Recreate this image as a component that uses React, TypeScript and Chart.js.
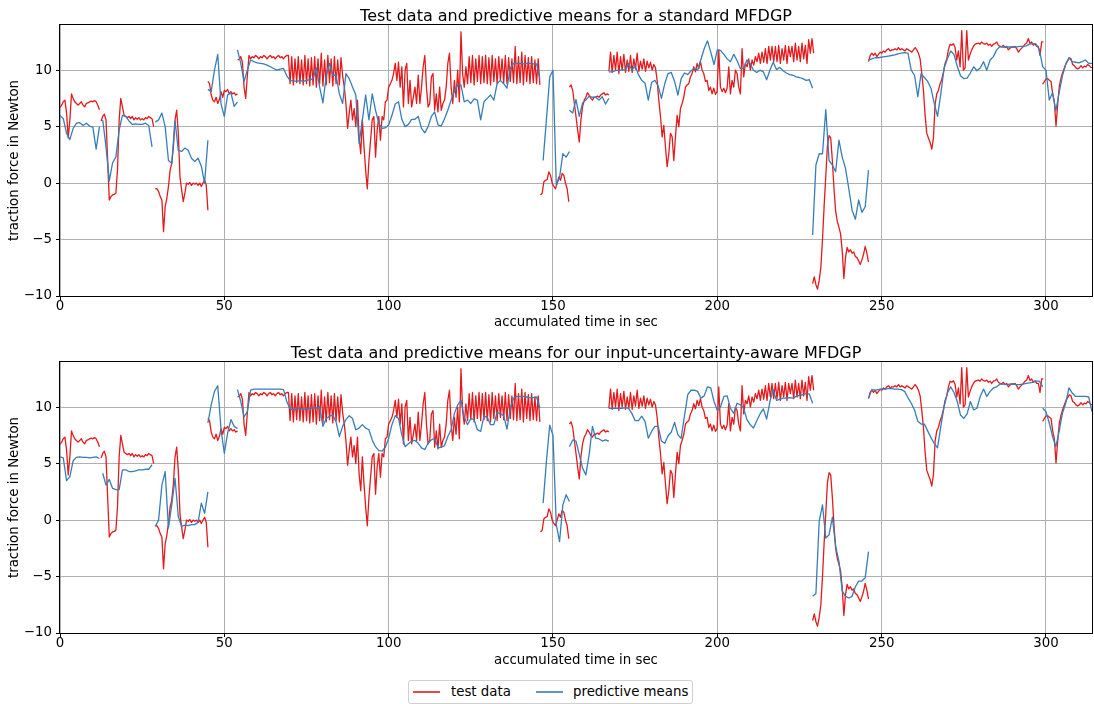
import React, { useEffect, useRef } from "react";
import { Chart, registerables } from "chart.js";

Chart.register(...registerables);

const FONT = '"DejaVu Sans", Verdana, sans-serif';
const RED = "#e41a1c";
const BLUE = "#377eb8";

// ---- x / y axis ticks ----
const xTickStep = 50;
const xMin = 0;
const xMax = 314;
const yTickStep = 5;
const yMin = -10;
const yMax = 14;

// ---- test data (traction force in Newton), recorded segments ----
const testStarts = [0, 12.5, 29, 45, 54, 146.2, 155, 167, 229, 246, 299];
const testSteps = [0.5, 0.5, 0.5, 0.5, 0.5, 0.5066, 0.5, 0.5066, 0.5, 0.5066, 0.5066];

const test1 = [6.7, 6.9, 7.2, 7.35, 6.2, 4.0, 5.6, 7.9, 7.5, 7.2, 7.05, 6.9, 7.05, 7.2, 6.9, 6.75, 7.05, 7.1, 7.2, 7.25, 7.2, 7.3, 7.2, 6.9, 6.5];
const test2 = [5.5, 5.9, 6.1, 5.6, 2.0, -1.5, -1.2, -1.05, -1.0, -0.9, 1.2, 5.6, 7.5, 6.75, 6.0, 5.9, 5.8, 5.9, 5.7, 5.9, 5.6, 5.8, 5.65, 5.8, 5.6, 5.7, 5.6, 5.8, 5.7, 5.9, 5.8, 5.7, 5.0];
const test3 = [-0.5, -0.5, -0.75, -1.2, -1.5, -4.3, -2.1, -1.35, -0.3, 1.15, 1.75, 3.2, 5.6, 6.45, 4.4, 0.55, -0.6, -1.65, -0.9, 0, -0.1, 0.05, -0.2, 0, -0.1, 0, -0.2, 0, -0.3, 0, 0.25, -0.2, -2.4];
const test4 = [9.0, 8.8, 7.8, 7.35, 7.2, 7.6, 7.05, 7.4, 8.1, 7.6, 8.2, 8.1, 8.3, 7.9, 8.1, 7.9, 8.0, 7.8, 7.9];
const test5 = [
  10.9, 10.95, 11.2, 10.7, 8.5, 7.5, 9.5, 11.3, 11.0, 11.2, 11.1, 11.3, 11.2, 11.0, 11.2, 11.1, 11.3, 11.2, 11.0, 11.2, 11.3, 11.1, 11.2, 11.0, 11.2, 11.3, 11.1, 11.2, 11.0, 11.2, 11.3,
  11.3, 8.8, 11.2, 8.7, 11.0, 8.9, 11.2, 8.8, 10.9, 8.7, 11.3, 8.8, 11.0, 8.6, 11.1, 8.7, 11.2, 8.5, 11.0, 8.8, 11.5, 8.6, 10.9, 8.7, 11.3, 8.9, 11.0, 8.6, 11.2, 8.8, 10.9, 8.7, 11.1,
  9.5, 8.5, 7.05, 4.85, 6.2, 7.35, 5.6, 6.6, 5.0, 7.35, 4.1, 2.6, 5.6, 3.2, 1.15, -0.5, 2.0, 3.8, 5.6, 5.9,
  2.3, 4.7, 5.9, 3.8, 5.9, 5.6, 7.2, 7.35, 8.5, 8.8, 9.1, 9.7, 10.6, 9.1, 10.7, 8.5, 10.3, 6.75, 10.0, 10.6,
  7.05, 9.1, 6.75, 7.6, 8.5, 7.05, 9.55, 7.05, 8.5, 10.3, 11.3, 8.5, 6.75, 7.05, 9.4, 9.7, 6.45, 7.9, 6.3, 8.5,
  6.45, 7.05, 7.35, 8.5, 10.6, 11.5, 8.5, 7.05, 9.1, 7.6, 10.0, 7.2, 13.4, 9.7, 8.5, 10.3,
  8.8, 11.2, 8.9, 11.3, 8.7, 11.0, 9.0, 11.3, 8.8, 11.2, 8.9, 11.3, 8.8, 11.1, 8.7, 11.3, 9.0, 11.0, 8.8, 11.2,
  9.1, 11.0, 8.9, 11.3, 8.8, 11.1, 9.0, 11.0, 8.9, 12.1, 8.8, 11.2, 8.9, 11.6, 8.7, 11.3, 9.0, 11.1, 8.8, 11.2,
  8.9, 10.9, 8.8, 11.0, 8.7,
];
const test6 = [-1.05, -0.9, 0.1, 0.25, 0.3, 1.0, 0.7, 0.0, -0.3, -0.5, 0.0, 0.55, 0.25, 0.85, 0.7, 0.0, -0.5, -1.65];
const test7 = [8.5, 8.7, 8.2, 7.05, 5.9, 4.7, 3.65, 5.6, 6.75, 7.35, 7.6, 8.0, 7.8, 7.5, 7.35, 7.6, 7.6, 7.7, 7.6, 7.8, 7.9, 8.0, 7.8, 7.9, 7.8];
const test8 = [
  9.9, 11.6, 9.8, 11.3, 10.0, 11.6, 9.7, 11.2, 10.0, 11.4, 9.8, 10.9, 9.9, 11.3, 9.8, 11.0, 10.1, 11.5, 9.9, 10.8,
  10.1, 11.0, 9.9, 10.8, 10.2, 10.7, 10.0, 10.5, 10.2,
  9.1, 7.35, 5.9, 4.1, 5.1, 3.2, 1.45, 2.6, 4.4, 4.1,
  2.0, 4.1, 6.0, 5.0, 6.6, 7.05, 7.6, 8.5, 8.7, 8.8,
  9.4, 9.7, 10.3, 9.85, 10.6, 10.15, 10.75, 10.0, 9.7, 9.0,
  9.1, 8.2, 8.5, 7.9, 8.4, 7.85, 8.1, 11.8, 8.5, 8.1,
  8.4, 8.0, 8.4, 10.3, 7.9, 9.1, 8.5, 10.0, 9.7, 8.5,
  7.9, 11.9, 9.4, 10.6, 10.3, 11.0, 10.0, 10.9, 10.45, 11.2,
  10.75, 11.5, 10.6, 11.6, 10.7, 11.9, 10.6, 12.1, 10.9, 12.1,
  10.75, 12.1, 10.75, 12.2, 10.6, 11.9, 10.9, 12.2, 10.6, 12.1,
  11.2, 12.1, 10.75, 12.4, 10.9, 12.1, 10.75, 12.4, 11.0, 12.2,
  10.6, 12.7, 11.5, 12.8, 11.5,
];
const test9 = [-8.9, -8.3, -9.0, -9.4, -8.6, -7.5, -5.0, -2.0, 0.6, 3.3, 4.2, 4.0, 2.0, -0.5, -2.5, -3.4, -3.9, -4.5, -6.0, -8.45, -6.6, -5.7, -6.1, -5.9, -6.2, -6.1, -6.5, -6.6, -6.9, -7.2, -6.8, -6.3, -5.6, -6.2, -7.0];
const test10 = [
  10.75, 11.3, 11.5, 11.3, 11.5, 11.2, 11.4, 11.6, 11.5, 11.7, 11.6, 11.8, 11.9, 11.7, 11.8, 11.8, 11.9, 11.8, 12.0, 11.8,
  11.9, 11.8, 11.7, 11.9, 11.8, 11.7, 11.6, 11.8, 12.0, 11.8, 11.5, 11.0, 9.7, 8.2, 6.0, 4.4, 4.0, 3.6, 3.0, 4.0,
  7.0, 7.9, 8.2, 8.8, 9.2, 9.8, 10.6, 11.0, 11.8, 12.3, 12.2, 12.35, 12.0, 10.9, 11.7, 10.3, 13.5, 10.0, 10.2, 13.5,
  10.9, 11.4, 11.8, 12.1, 12.3, 12.35, 12.4, 12.3, 12.5, 12.35, 12.3, 12.4, 12.2, 12.3, 12.1, 12.3, 12.35, 12.5, 12.2, 12.1,
  12.05, 12.2, 12.0, 12.1, 11.8, 11.95, 12.05, 12.05, 12.1, 11.9, 11.6, 11.8, 11.95, 12.1, 12.3, 12.4, 12.8, 12.35, 12.5, 12.2,
  12.35, 12.1, 12.1, 11.3, 12.5, 12.5,
];
const test11 = [8.75, 9.0, 9.2, 9.25, 9.1, 9.0, 7.9, 7.2, 5.05, 7.0, 8.6, 9.3, 9.8, 10.2, 10.6, 10.85, 11.1, 11.0, 10.5, 10.4, 10.2, 10.1, 10.2, 10.4, 10.2, 10.35, 10.3, 10.5, 10.4, 10.25, 10.2];

// ---- predictive means, standard MFDGP (1 s spacing) ----
const meanStarts = [0, 13, 29, 45, 54, 147, 155, 167, 229, 246, 299];

const standard1 = [6.0, 5.7, 4.4, 3.85, 4.85, 5.3, 5.35, 5.1, 5.3, 5.05, 4.95, 3.0, 5.0];
const standard2 = [5.6, 3.2, 0.2, 1.8, 2.3, 4.7, 6.0, 5.9, 5.5, 5.2, 5.25, 5.2, 5.2, 5.3, 5.1, 3.2];
const standard3 = [5.4, 5.6, 6.2, 5.0, 2.0, 1.75, 5.5, 2.9, 2.8, 3.1, 2.9, 2.2, 1.9, 2.2, 1.5, 0.0, 3.8];
const standard4 = [8.3, 8.1, 10.0, 11.4, 7.0, 5.9, 7.8, 8.0, 6.8, 7.2];
const standard5 = [
  11.8, 10.6, 9.0, 10.0, 10.9, 10.75, 10.65, 10.6, 10.55, 10.45,
  10.3, 10.15, 10.0, 10.1, 10.15, 9.5, 9.1, 9.05, 9.0, 9.1,
  9.0, 9.1, 9.15, 9.25, 10.2, 8.5, 7.1, 9.5, 10.6, 9.55,
  9.55, 7.9, 7.05, 9.7, 9.25, 8.5, 7.8, 3.5, 5.6, 7.8,
  5.6, 7.9, 6.45, 5.3, 4.85, 4.9, 5.15, 6.0, 7.0, 7.2,
  5.65, 5.0, 5.2, 5.65, 5.65, 5.9, 4.85, 4.45, 5.0, 5.9,
  6.3, 5.15, 5.05, 5.7, 6.45, 7.35, 8.1, 8.7, 8.7, 7.2,
  7.35, 7.05, 7.45, 7.35, 5.6, 7.2, 7.5, 7.8, 7.35, 8.8,
  9.1, 8.8, 8.4, 10.15, 10.6, 10.6, 10.6, 10.55, 10.6, 10.6,
  10.55, 10.55, 9.25,
];
const standard6 = [2.0, 5.6, 9.4, 10.0, -0.2, 0.5, 2.6, 2.3, 2.8];
const standard7 = [6.45, 6.2, 7.4, 5.9, 7.1, 7.35, 7.7, 7.6, 7.6, 7.35, 7.65, 7.0, 7.5];
const standard8 = [
  9.85, 9.85, 9.95, 10.0, 10.0, 10.05, 10.6, 10.0, 10.4, 9.6,
  9.1, 8.85, 7.35, 8.9, 9.1, 8.6, 7.5, 8.8, 9.7, 9.8,
  9.0, 7.8, 9.25, 9.75, 9.6, 9.95, 10.15, 10.0, 10.95, 11.9,
  12.6, 11.6, 10.5, 11.8, 11.75, 11.4, 11.0, 10.75, 11.4, 10.85,
  10.15, 10.15, 10.9, 10.6, 10.0, 9.8, 10.0, 9.85, 9.15, 10.0,
  10.7, 10.05, 10.25, 9.95, 9.75, 9.6, 9.55, 9.4, 9.35, 9.25,
  9.1, 9.15, 8.4,
];
const standard9 = [-4.6, 1.6, 2.6, 2.6, 6.5, 2.0, 1.6, 1.0, 3.8, 2.3, 1.3, -0.5, -2.4, -3.2, -1.5, -2.6, -2.1, 1.15];
const standard10 = [
  10.9, 11.0, 11.1, 11.1, 11.15, 11.2, 11.25, 11.3, 11.35, 11.45,
  11.5, 11.55, 11.5, 10.0, 9.55, 7.65, 9.7, 9.35, 9.0, 8.4,
  7.05, 5.9, 7.9, 10.2, 11.0, 11.7, 11.4, 10.35, 9.5, 9.25,
  9.3, 9.75, 10.3, 9.95, 10.2, 10.75, 10.0, 10.9, 11.2, 11.8,
  12.1, 12.05, 12.05, 12.05, 12.05, 12.05, 12.1, 12.1, 12.15, 12.3,
  12.35, 12.3, 11.8, 10.3,
];
const standard11 = [10.3, 10.0, 7.35, 8.0, 6.4, 8.0, 9.5, 10.5, 11.1, 10.75, 10.7, 10.65, 10.75, 10.9, 10.6, 10.6];

// ---- predictive means, input-uncertainty-aware MFDGP (1 s spacing) ----
const aware1 = [5.6, 5.5, 3.5, 3.85, 5.25, 5.55, 5.6, 5.55, 5.55, 5.5, 5.55, 5.6, 5.45];
const aware2 = [4.15, 3.1, 3.6, 2.8, 2.7, 2.7, 4.45, 4.45, 4.3, 4.3, 4.35, 4.45, 4.45, 4.5, 4.5, 4.9];
const aware3 = [-0.55, 0.0, 3.1, 4.3, -0.7, 1.35, 3.7, 0.3, -0.55, -0.45, -0.5, -0.4, -0.4, -0.2, 1.5, 0.6, 2.5];
const aware4 = [8.6, 10.2, 11.4, 11.9, 8.0, 5.9, 7.7, 8.9, 8.3, 8.1];
const aware5 = [
  11.55, 10.5, 9.15, 9.6, 11.5, 11.6, 11.6, 11.6, 11.6, 11.6,
  11.6, 11.6, 11.6, 11.6, 11.55, 10.5, 9.85, 9.75, 9.8, 9.9,
  9.8, 9.85, 9.9, 9.95, 9.9, 10.05, 8.3, 9.0, 9.2, 9.3,
  8.7, 7.4, 8.3, 8.9, 9.25, 9.0, 8.0, 8.15, 8.45, 8.15,
  8.0, 7.1, 6.5, 6.15, 6.1, 6.45, 7.25, 8.45, 9.25, 9.0,
  7.55, 6.5, 6.75, 7.0, 7.05, 6.8, 6.4, 6.25, 6.8, 7.1,
  7.25, 6.4, 6.45, 6.6, 7.4, 8.0, 9.45, 10.2, 10.6, 9.1,
  8.45, 9.0, 8.9, 8.0, 7.85, 9.2, 9.1, 8.45, 8.45, 9.55,
  9.4, 9.25, 8.05, 9.9, 10.8, 10.95, 10.95, 10.95, 10.9, 10.85,
  10.85, 10.9, 9.9,
];
const aware6 = [1.5, 5.2, 8.4, 7.5, -0.4, -1.9, 1.35, 2.25, 1.65];
const aware7 = [6.5, 7.1, 7.0, 5.8, 4.6, 4.0, 5.8, 8.3, 7.25, 7.2, 7.0, 7.1, 7.0];
const aware8 = [
  9.9, 9.9, 9.9, 9.9, 9.9, 9.95, 9.9, 9.45, 8.8, 8.8,
  9.2, 8.75, 7.25, 7.85, 8.3, 8.3, 7.0, 6.8, 7.45, 7.8,
  8.65, 7.55, 7.25, 9.2, 11.1, 11.5, 11.5, 11.4, 10.8, 11.0,
  11.8, 11.7, 10.5, 9.7, 10.05, 10.95, 11.0, 9.9, 9.45, 10.35,
  10.2, 9.9, 8.9, 8.45, 8.15, 8.8, 9.4, 9.85, 8.95, 10.5,
  11.55, 10.6, 10.7, 10.8, 10.8, 10.85, 10.8, 10.95, 11.05, 11.1,
  11.2, 11.15, 10.35,
];
const aware9 = [-6.75, -6.5, -0.1, 1.35, -1.6, -1.3, 0.25, -2.3, -3.65, -6.3, -6.75, -6.9, -6.75, -5.9, -5.4, -5.4, -5.1, -2.8];
const aware10 = [
  10.8, 11.55, 11.5, 11.55, 11.6, 11.6, 11.65, 11.65, 11.6, 11.6,
  11.55, 11.4, 10.85, 10.35, 9.75, 8.75, 8.5, 8.5, 7.9, 7.3,
  6.8, 6.4, 8.3, 10.05, 11.25, 11.8, 11.3, 10.5, 9.3, 9.0,
  9.4, 10.5, 9.75, 9.9, 10.95, 11.6, 10.95, 11.4, 11.7, 11.8,
  12.05, 12.05, 12.0, 12.05, 12.05, 12.0, 12.0, 12.05, 12.1, 12.15,
  12.2, 12.3, 12.3, 11.8,
];
const aware11 = [9.9, 9.6, 8.6, 7.4, 6.5, 7.85, 9.45, 10.35, 11.7, 11.25, 10.95, 10.95, 10.95, 10.95, 10.9, 9.6];

const testSegments = [test1, test2, test3, test4, test5, test6, test7, test8, test9, test10, test11];
const standardSegments = [standard1, standard2, standard3, standard4, standard5, standard6, standard7, standard8, standard9, standard10, standard11];
const awareSegments = [aware1, aware2, aware3, aware4, aware5, aware6, aware7, aware8, aware9, aware10, aware11];

type Pt = { x: number; y: number | null };

function buildSeries(starts: number[], steps: number[] | number, segs: number[][]): Pt[] {
  const out: Pt[] = [];
  segs.forEach((seg, s) => {
    const step = Array.isArray(steps) ? steps[s] : steps;
    if (s > 0) out.push({ x: starts[s], y: null });
    seg.forEach((v, i) => out.push({ x: starts[s] + i * step, y: v }));
  });
  return out;
}

const testPoints = buildSeries(testStarts, testSteps, testSegments);
const standardPoints = buildSeries(meanStarts, 1, standardSegments);
const awarePoints = buildSeries(meanStarts, 1, awareSegments);

const TICK_FONT = { family: FONT, size: 13.33, lineHeight: 1 };
const LABEL_FONT = { family: FONT, size: 13.33, lineHeight: 1.2 };

const fmt = (v: number | string) => String(v).replace("-", "\u2212");

const axesDecor = {
  id: "axesDecor",
  afterDatasetsDraw(chart: any) {
    const { ctx, chartArea: a } = chart;
    ctx.save();
    ctx.strokeStyle = "#000";
    ctx.lineWidth = 1;
    ctx.strokeRect(Math.round(a.left) - 0.5, Math.round(a.top) - 0.5, Math.round(a.right - a.left) + 1, Math.round(a.bottom - a.top) + 1);
    ctx.restore();
  },
  afterDraw(chart: any, _args: any, opts: any) {
    const { ctx, chartArea: a } = chart;
    ctx.save();
    ctx.fillStyle = "#000";
    ctx.font = `16px ${FONT}`;
    ctx.textAlign = "center";
    ctx.textBaseline = "alphabetic";
    ctx.fillText(opts.text, (a.left + a.right) / 2, a.top - 4.5);
    ctx.restore();
  },
};

function Panel(props: { top: number; height: number; xAxisHeight: number; title: string; mean: Pt[] }) {
  const ref = useRef<HTMLCanvasElement>(null);
  useEffect(() => {
    const chart = new Chart(ref.current as HTMLCanvasElement, {
      type: "line",
      data: {
        datasets: [
          {
            label: "predictive means",
            data: props.mean as any,
            borderColor: BLUE,
            backgroundColor: BLUE,
            borderWidth: 1.3,
            pointRadius: 0,
            tension: 0,
            spanGaps: false,
            borderJoinStyle: "round",
          },
          {
            label: "test data",
            data: testPoints as any,
            borderColor: RED,
            backgroundColor: RED,
            borderWidth: 1.3,
            pointRadius: 0,
            tension: 0,
            spanGaps: false,
            borderJoinStyle: "round",
          },
        ],
      },
      options: {
        animation: false,
        responsive: false,
        devicePixelRatio: 1,
        events: [],
        layout: { padding: { top: 25, right: 2, left: 0, bottom: 0 } },
        plugins: {
          legend: { display: false },
          tooltip: { enabled: false },
          axesDecor: { text: props.title },
        } as any,
        scales: {
          x: {
            type: "linear",
            min: xMin,
            max: xMax,
            ticks: {
              stepSize: xTickStep,
              includeBounds: false,
              autoSkip: false,
              maxRotation: 0,
              padding: 0,
              color: "#000",
              font: TICK_FONT,
              callback: (v: any) => fmt(v),
            },
            grid: { color: "#b0b0b0", lineWidth: 1, tickColor: "#000", tickLength: 4, tickWidth: 1 },
            border: { display: false },
            title: {
              display: true,
              text: "accumulated time in sec",
              color: "#000",
              font: LABEL_FONT,
              padding: { top: 0, bottom: 4 },
            },
            afterFit: (s: any) => {
              s.height = props.xAxisHeight;
            },
          },
          y: {
            type: "linear",
            min: yMin,
            max: yMax,
            ticks: {
              stepSize: yTickStep,
              includeBounds: false,
              padding: 4,
              color: "#000",
              font: TICK_FONT,
              callback: (v: any) => fmt(v),
            },
            grid: { color: "#b0b0b0", lineWidth: 1, tickColor: "#000", tickLength: 4, tickWidth: 1 },
            border: { display: false },
            title: {
              display: true,
              text: "traction force in Newton",
              color: "#000",
              font: LABEL_FONT,
              padding: { top: 7, bottom: 0 },
            },
            afterFit: (s: any) => {
              s.width = 60;
            },
          },
        },
      } as any,
      plugins: [axesDecor as any],
    });
    return () => chart.destroy();
  }, []);
  return (
    <canvas
      ref={ref}
      width={1094}
      height={props.height}
      style={{ position: "absolute", left: 0, top: props.top, width: 1094, height: props.height }}
    />
  );
}

function Swatch(props: { color: string; left: number }) {
  return (
    <svg
      width={28}
      height={6}
      style={{ position: "absolute", left: props.left, top: 8, display: "block" }}
    >
      <line x1={0} y1={3} x2={27} y2={3} stroke={props.color} strokeWidth={1.6} />
    </svg>
  );
}

function Legend() {
  const text: React.CSSProperties = {
    position: "absolute",
    top: 0,
    lineHeight: "22px",
    fontFamily: FONT,
    fontSize: 13.33,
    color: "#000",
    whiteSpace: "nowrap",
  };
  return (
    <div
      style={{
        position: "absolute",
        left: 408,
        top: 680,
        width: 285,
        height: 24,
        boxSizing: "border-box",
        border: "1px solid #d0d0d0",
        borderRadius: 3,
        background: "#fff",
      }}
    >
      <Swatch color={RED} left={4} />
      <span style={{ ...text, left: 42 }}>test data</span>
      <Swatch color={BLUE} left={127} />
      <span style={{ ...text, left: 164 }}>predictive means</span>
    </div>
  );
}

export default function App() {
  return (
    <div
      style={{
        position: "absolute",
        left: 0,
        top: 0,
        width: 1094,
        height: 704,
        overflow: "hidden",
        background: "#fff",
      }}
    >
      <Panel top={0} height={335} xAxisHeight={39} title="Test data and predictive means for a standard MFDGP" mean={standardPoints} />
      <Panel
        top={337}
        height={336}
        xAxisHeight={40}
        title="Test data and predictive means for our input-uncertainty-aware MFDGP"
        mean={awarePoints}
      />
      <Legend />
    </div>
  );
}
